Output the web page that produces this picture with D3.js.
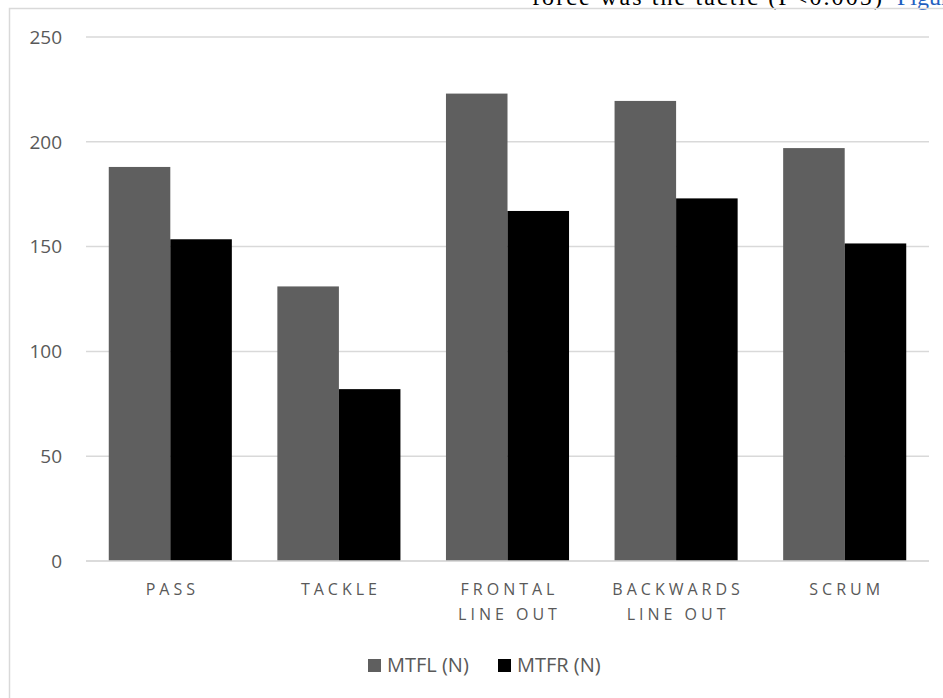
<!DOCTYPE html>
<html>
<head>
<meta charset="utf-8">
<script src="https://cdn.jsdelivr.net/npm/d3@7"></script>
<style>
  html, body { margin: 0; padding: 0; background: #fff; }
  svg { display: block; }
</style>
</head>
<body>
<svg id="chart" width="943" height="698"></svg>
<script>
// Tactic categories (second line of a label after "\n")
const categories = ["PASS", "TACKLE", "FRONTAL\nLINE OUT", "BACKWARDS\nLINE OUT", "SCRUM"];
// Series names
const seriesNames = ["MTFL (N)", "MTFR (N)"];
// Mean values per tactic
const mtfl = [188, 131, 223, 219.5, 197];
const mtfr = [153.5, 82, 167, 173, 151.5];
// Y axis ticks
const yTicks = [0, 50, 100, 150, 200, 250];

const colors = ["#5f5f5f", "#000000"];
const svg = d3.select("#chart");

// Running text from the page, partly cut by the frame
const caption = svg.append("text")
  .attr("y", 5)
  .attr("font-family", "'Liberation Serif', 'Times New Roman', serif")
  .attr("font-size", 24);
caption.append("tspan").attr("x", 532).attr("fill", "#000")
  .attr("textLength", 358).text("force was the tactic (P<0.005) ");
caption.append("tspan").attr("x", 897).attr("fill", "#1f5fbf").text("Figure");

// Chart frame
svg.append("rect")
  .attr("x", 9.5).attr("y", 8.5)
  .attr("width", 960).attr("height", 720)
  .attr("fill", "none").attr("stroke", "#d9d9d9").attr("stroke-width", 1.5);

const plotLeft = 86, plotRight = 929, plotTop = 37, plotBottom = 561;

const y = d3.scaleLinear().domain([0, 250]).range([plotBottom, plotTop]);
const x0 = d3.scaleBand().domain(categories).range([plotLeft, plotRight])
  .paddingInner(0.27).paddingOuter(0.135);
const x1 = d3.scaleBand().domain(seriesNames).range([0, x0.bandwidth()]);

// Gridlines
svg.append("g").selectAll("line").data(yTicks).join("line")
  .attr("x1", plotLeft).attr("x2", plotRight)
  .attr("y1", d => y(d)).attr("y2", d => y(d))
  .attr("stroke", "#d9d9d9").attr("stroke-width", 1.5);

// Y tick labels
svg.append("g").selectAll("text").data(yTicks).join("text")
  .attr("x", 62).attr("y", d => y(d))
  .attr("dy", "0.36em")
  .attr("text-anchor", "end")
  .attr("font-family", "'Open Sans', sans-serif")
  .attr("font-size", 19)
  .attr("fill", "#595959")
  .text(d => d);

// Bars
const rows = categories.map((c, i) => ({ cat: c, vals: [mtfl[i], mtfr[i]] }));
const groups = svg.append("g").selectAll("g").data(rows).join("g")
  .attr("transform", d => `translate(${x0(d.cat)},0)`);
groups.selectAll("rect")
  .data(d => d.vals.map((v, j) => ({ key: seriesNames[j], v, j })))
  .join("rect")
  .attr("x", d => x1(d.key))
  .attr("width", x1.bandwidth())
  .attr("y", d => y(d.v))
  .attr("height", d => y(0) - y(d.v))
  .attr("fill", d => colors[d.j]);

// Baseline
svg.append("line")
  .attr("x1", plotLeft).attr("x2", plotRight)
  .attr("y1", y(0)).attr("y2", y(0))
  .attr("stroke", "#d9d9d9").attr("stroke-width", 1.5);

// Category labels
const catLabels = svg.append("g").selectAll("text").data(categories).join("text")
  .attr("text-anchor", "middle")
  .attr("font-family", "'Open Sans', sans-serif")
  .attr("font-size", 16)
  .attr("letter-spacing", 4)
  .attr("fill", "#595959");
catLabels.each(function (d) {
  const t = d3.select(this);
  const cx = x0(d) + x0.bandwidth() / 2 + 2;
  d.split("\n").forEach((line, k) => {
    t.append("tspan").attr("x", cx).attr("y", 595 + k * 25).text(line);
  });
});

// Legend
const legendItems = [
  { name: seriesNames[0], color: colors[0], x: 368 },
  { name: seriesNames[1], color: colors[1], x: 498 }
];
const lg = svg.append("g").selectAll("g").data(legendItems).join("g")
  .attr("transform", d => `translate(${d.x},0)`);
lg.append("rect").attr("x", 0).attr("y", 659).attr("width", 13).attr("height", 13)
  .attr("fill", d => d.color);
lg.append("text").attr("x", 19).attr("y", 672)
  .attr("font-family", "'Open Sans', sans-serif")
  .attr("font-size", 20)
  .attr("fill", "#595959")
  .text(d => d.name);
</script>
</body>
</html>
